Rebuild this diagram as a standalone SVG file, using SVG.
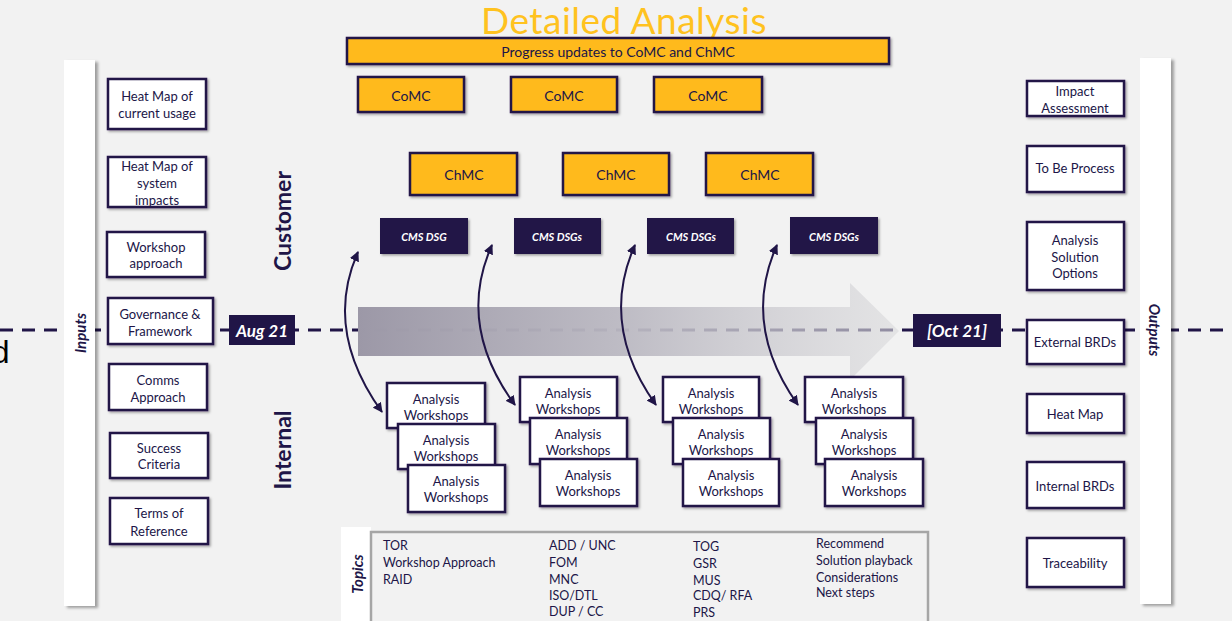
<svg xmlns="http://www.w3.org/2000/svg" width="1232" height="621" viewBox="0 0 1232 621">
<defs>
<style>
text{font-family:Lato,"Open Sans","Liberation Sans",sans-serif;fill:#201547}
.box{fill:#fff;stroke:#201547;stroke-width:2.5}
.gold{fill:#FFBA1C;stroke:#201547;stroke-width:2.5}
.dark{fill:#201547}
.t{font-size:13px;text-anchor:middle;dominant-baseline:central}
.tg{font-size:14px;text-anchor:middle;dominant-baseline:central}
.tw{fill:#fff;font-weight:bold;font-style:italic;text-anchor:middle;dominant-baseline:central}
.lab{font-weight:bold;font-style:italic;font-size:15px;text-anchor:middle;dominant-baseline:central}
.side{font-weight:bold;font-size:23px;text-anchor:middle;dominant-baseline:central}
.top{font-size:12.5px;dominant-baseline:central}
.conn{fill:none;stroke:#201547;stroke-width:2}
.dash{stroke:#201547;stroke-width:3;stroke-dasharray:13 9}
</style>
<filter id="sh" x="-10%" y="-10%" width="130%" height="130%"><feDropShadow dx="1.5" dy="1.5" stdDeviation="1" flood-color="#000" flood-opacity="0.35"/></filter>
<filter id="psh" x="-20%" y="-5%" width="160%" height="110%"><feDropShadow dx="3" dy="2" stdDeviation="1.5" flood-color="#000" flood-opacity="0.35"/></filter>
<linearGradient id="ag" x1="358" y1="0" x2="900" y2="0" gradientUnits="userSpaceOnUse">
<stop offset="0" stop-color="#9c98a7" stop-opacity="1"/>
<stop offset="0.5" stop-color="#bcbac3" stop-opacity="0.95"/>
<stop offset="1" stop-color="#dadadc" stop-opacity="0.6"/>
</linearGradient>
<marker id="ah" viewBox="0 0 10 10" refX="9" refY="5" markerWidth="5" markerHeight="5" orient="auto-start-reverse"><path d="M0,0 L10,5 L0,10 z" fill="#201547"/></marker>
</defs>
<rect width="1232" height="621" fill="#f2f2f2"/>

<text x="9.5" y="363" style="font-family:'Liberation Sans',sans-serif;font-size:32px;fill:#000;text-anchor:end">d</text>

<g id="timeline">
<line class="dash" x1="0" y1="330" x2="1232" y2="330"/>
<path d="M358,307 L850,307 L850,283 L899,331 L850,380 L850,356 L358,356 Z" fill="url(#ag)"/>
</g>

<text x="624" y="34" style="font-size:37px;letter-spacing:0.5px;fill:#FFC21F;text-anchor:middle">Detailed Analysis</text>

<g id="inputs-panel"><rect x="64" y="60" width="31" height="546" fill="#fff" filter="url(#psh)"/><text class="lab" transform="translate(80,333) rotate(-90)">Inputs</text></g>
<g id="outputs-panel"><rect x="1140" y="58" width="31" height="546" fill="#fff" filter="url(#psh)"/><text class="lab" transform="translate(1155,330) rotate(90)">Outputs</text></g>

<g id="in1"><rect class="box" x="108" y="79" width="98" height="50" filter="url(#sh)"/><text class="t" x="157" y="96">Heat Map of</text><text class="t" x="157" y="113">current usage</text></g>
<g id="in2"><rect class="box" x="108" y="157" width="98" height="50" filter="url(#sh)"/><text class="t" x="157" y="166">Heat Map of</text><text class="t" x="157" y="183">system</text><text class="t" x="157" y="200">impacts</text></g>
<g id="in3"><rect class="box" x="107" y="232" width="98" height="45" filter="url(#sh)"/><text class="t" x="156" y="247">Workshop</text><text class="t" x="156" y="263">approach</text></g>
<g id="in4"><rect class="box" x="108" y="298" width="105" height="46" filter="url(#sh)"/><text class="t" x="160" y="314">Governance &amp;</text><text class="t" x="160" y="331">Framework</text></g>
<g id="in5"><rect class="box" x="109" y="364" width="98" height="46" filter="url(#sh)"/><text class="t" x="158" y="380">Comms</text><text class="t" x="158" y="397">Approach</text></g>
<g id="in6"><rect class="box" x="110" y="433" width="98" height="45" filter="url(#sh)"/><text class="t" x="159" y="448">Success</text><text class="t" x="159" y="464">Criteria</text></g>
<g id="in7"><rect class="box" x="110" y="498" width="98" height="46" filter="url(#sh)"/><text class="t" x="159" y="513">Terms of</text><text class="t" x="159" y="531">Reference</text></g>

<g id="out1"><rect class="box" x="1027" y="81" width="97" height="35" filter="url(#sh)"/><text class="t" x="1075" y="91">Impact</text><text class="t" x="1075" y="108">Assessment</text></g>
<g id="out2"><rect class="box" x="1027" y="146" width="97" height="46" filter="url(#sh)"/><text class="t" x="1075" y="168">To Be Process</text></g>
<g id="out3"><rect class="box" x="1027" y="222" width="97" height="68" filter="url(#sh)"/><text class="t" x="1075" y="240">Analysis</text><text class="t" x="1075" y="257">Solution</text><text class="t" x="1075" y="273">Options</text></g>
<g id="out4"><rect class="box" x="1027" y="320" width="97" height="44" filter="url(#sh)"/><text class="t" x="1075" y="342">External BRDs</text></g>
<g id="out5"><rect class="box" x="1027" y="394" width="97" height="39" filter="url(#sh)"/><text class="t" x="1075" y="414">Heat Map</text></g>
<g id="out6"><rect class="box" x="1027" y="462" width="97" height="46" filter="url(#sh)"/><text class="t" x="1075" y="486">Internal BRDs</text></g>
<g id="out7"><rect class="box" x="1027" y="538" width="97" height="49" filter="url(#sh)"/><text class="t" x="1075" y="563">Traceability</text></g>

<g id="aug21"><rect class="dark" x="229" y="315" width="66" height="30"/><text class="tw" x="262" y="330" style="font-size:17px">Aug 21</text></g>
<g id="oct21"><rect class="dark" x="913" y="314" width="88" height="33"/><text class="tw" x="957" y="330" style="font-size:17px">[Oct 21]</text></g>

<text class="side" transform="translate(282,221) rotate(-90)">Customer</text>
<text class="side" transform="translate(282,450) rotate(-90)">Internal</text>

<g id="progress"><rect class="gold" x="347" y="38" width="542" height="26" filter="url(#sh)"/><text class="tg" x="618" y="51">Progress updates to CoMC and ChMC</text></g>

<g id="comc1"><rect class="gold" x="358" y="77" width="106" height="35" filter="url(#sh)"/><text class="tg" x="411" y="95">CoMC</text></g>
<g id="comc2"><rect class="gold" x="511" y="77" width="106" height="35" filter="url(#sh)"/><text class="tg" x="564" y="95">CoMC</text></g>
<g id="comc3"><rect class="gold" x="654" y="77" width="108" height="35" filter="url(#sh)"/><text class="tg" x="708" y="95">CoMC</text></g>

<g id="chmc1"><rect class="gold" x="410" y="153" width="107" height="42" filter="url(#sh)"/><text class="tg" x="464" y="174">ChMC</text></g>
<g id="chmc2"><rect class="gold" x="563" y="153" width="106" height="42" filter="url(#sh)"/><text class="tg" x="616" y="174">ChMC</text></g>
<g id="chmc3"><rect class="gold" x="706" y="153" width="107" height="42" filter="url(#sh)"/><text class="tg" x="760" y="174">ChMC</text></g>

<g id="dsg1"><rect class="dark" x="380" y="218" width="88" height="36" filter="url(#sh)"/><text class="tw" x="424" y="236" style="font-size:11px">CMS DSG</text></g>
<g id="dsg2"><rect class="dark" x="514" y="218" width="87" height="36" filter="url(#sh)"/><text class="tw" x="557" y="236" style="font-size:11px">CMS DSGs</text></g>
<g id="dsg3"><rect class="dark" x="647" y="218" width="87" height="36" filter="url(#sh)"/><text class="tw" x="691" y="236" style="font-size:11px">CMS DSGs</text></g>
<g id="dsg4"><rect class="dark" x="790" y="217" width="88" height="37" filter="url(#sh)"/><text class="tw" x="834" y="236" style="font-size:11px">CMS DSGs</text></g>

<g id="ws1">
<rect class="box" x="387" y="383" width="98" height="45" filter="url(#sh)"/><text class="t" x="436" y="399">Analysis</text><text class="t" x="436" y="415">Workshops</text>
<rect class="box" x="398" y="424" width="97" height="45" filter="url(#sh)"/><text class="t" x="446" y="440">Analysis</text><text class="t" x="446" y="456">Workshops</text>
<rect class="box" x="408" y="465" width="97" height="47" filter="url(#sh)"/><text class="t" x="456" y="481">Analysis</text><text class="t" x="456" y="497">Workshops</text>
</g>
<g id="ws2">
<rect class="box" x="520" y="377" width="97" height="45" filter="url(#sh)"/><text class="t" x="568" y="393">Analysis</text><text class="t" x="568" y="409">Workshops</text>
<rect class="box" x="530" y="418" width="97" height="46" filter="url(#sh)"/><text class="t" x="578" y="434">Analysis</text><text class="t" x="578" y="450">Workshops</text>
<rect class="box" x="540" y="459" width="97" height="47" filter="url(#sh)"/><text class="t" x="588" y="475">Analysis</text><text class="t" x="588" y="491">Workshops</text>
</g>
<g id="ws3">
<rect class="box" x="663" y="377" width="96" height="45" filter="url(#sh)"/><text class="t" x="711" y="393">Analysis</text><text class="t" x="711" y="409">Workshops</text>
<rect class="box" x="673" y="418" width="97" height="46" filter="url(#sh)"/><text class="t" x="721" y="434">Analysis</text><text class="t" x="721" y="450">Workshops</text>
<rect class="box" x="683" y="459" width="96" height="47" filter="url(#sh)"/><text class="t" x="731" y="475">Analysis</text><text class="t" x="731" y="491">Workshops</text>
</g>
<g id="ws4">
<rect class="box" x="805" y="377" width="98" height="45" filter="url(#sh)"/><text class="t" x="854" y="393">Analysis</text><text class="t" x="854" y="409">Workshops</text>
<rect class="box" x="816" y="418" width="97" height="46" filter="url(#sh)"/><text class="t" x="864" y="434">Analysis</text><text class="t" x="864" y="450">Workshops</text>
<rect class="box" x="825" y="459" width="98" height="47" filter="url(#sh)"/><text class="t" x="874" y="475">Analysis</text><text class="t" x="874" y="491">Workshops</text>
</g>

<g id="connectors">
<path class="conn" marker-start="url(#ah)" marker-end="url(#ah)" d="M358,252 Q323,330 382,412"/>
<path class="conn" marker-start="url(#ah)" marker-end="url(#ah)" d="M492,245 Q456,325 515,405"/>
<path class="conn" marker-start="url(#ah)" marker-end="url(#ah)" d="M635,245 Q599,325 656,405"/>
<path class="conn" marker-start="url(#ah)" marker-end="url(#ah)" d="M777,245 Q741,325 798,405"/>
</g>

<g id="topics">
<rect x="341" y="527" width="30" height="100" fill="#fff"/>
<text class="lab" transform="translate(357,574) rotate(-90)">Topics</text>
<rect x="371" y="532" width="557" height="95" fill="#f2f2f2" stroke="#a6a6a6" stroke-width="2.5"/>
<text class="top" x="383" y="545">TOR</text>
<text class="top" x="383" y="562">Workshop Approach</text>
<text class="top" x="383" y="579">RAID</text>
<text class="top" x="549" y="545">ADD / UNC</text>
<text class="top" x="549" y="562">FOM</text>
<text class="top" x="549" y="579">MNC</text>
<text class="top" x="549" y="595">ISO/DTL</text>
<text class="top" x="549" y="611">DUP / CC</text>
<text class="top" x="693" y="546">TOG</text>
<text class="top" x="693" y="563">GSR</text>
<text class="top" x="693" y="580">MUS</text>
<text class="top" x="693" y="595">CDQ/ RFA</text>
<text class="top" x="693" y="612">PRS</text>
<text class="top" x="816" y="543">Recommend</text>
<text class="top" x="816" y="560">Solution playback</text>
<text class="top" x="816" y="577">Considerations</text>
<text class="top" x="816" y="592">Next steps</text>
</g>
</svg>
